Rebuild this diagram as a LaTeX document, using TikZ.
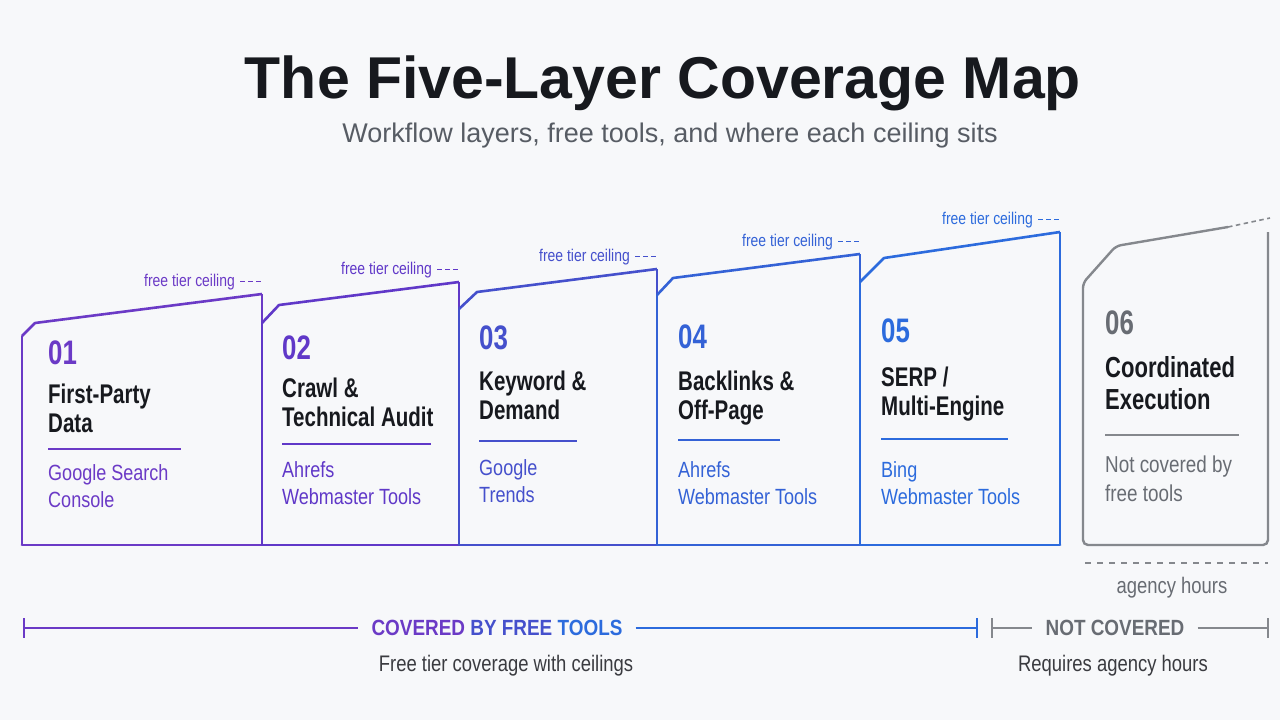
\documentclass[tikz,border=0pt]{standalone}
\usepackage{fontspec}
\setmainfont{Liberation Sans}
\newfontfamily\bodyfont[FakeStretch=0.82]{Liberation Sans}
\newfontfamily\headfont[FakeStretch=0.76]{Liberation Sans}
\newfontfamily\capfont[FakeStretch=0.86]{Liberation Sans}
\newcommand\tightsp{\spaceskip=0pt\relax\xspaceskip=0pt\relax}
\definecolor{lay1}{HTML}{6B3AC6}
\definecolor{lay2}{HTML}{6038C8}
\definecolor{lay3}{HTML}{4550CC}
\definecolor{lay4}{HTML}{3462D6}
\definecolor{lay5}{HTML}{2C6BDD}
\definecolor{grayc}{HTML}{85888D}
\definecolor{graytxt}{HTML}{686C73}
\definecolor{ink}{HTML}{17191E}
\definecolor{subgray}{HTML}{575C64}
\definecolor{bg}{HTML}{F7F8FA}

\begin{document}
\begin{tikzpicture}[x=1pt,y=-1pt,
  ceil/.style={line width=2.6pt,line join=round},
  wall/.style={line width=1.4pt},
  floor/.style={line width=2.8pt,line cap=round},
  ceildash/.style={line width=1.2pt,dash pattern=on 4.5pt off 3.5pt},
  rulec/.style={line width=1.5pt},
  barline/.style={line width=2.4pt},
  ceillbl/.style={font=\bodyfont\fontsize{17}{17}\selectfont,inner sep=0pt,anchor=base east},
  numlbl/.style={font=\headfont\bfseries\fontsize{34}{34}\selectfont,inner sep=0pt,anchor=base west},
  headlbl/.style={font=\headfont\bfseries\fontsize{27}{29}\selectfont,text=ink,inner sep=0pt,anchor=base west,text width=220pt,align=left},
  toollbl/.style={font=\bodyfont\fontsize{22}{27}\selectfont,inner sep=0pt,anchor=base west,text width=220pt,align=left},
  barlbl/.style={font=\capfont\bfseries\fontsize{22}{22}\selectfont,inner xsep=13pt,inner ysep=0pt},
  desclbl/.style={font=\bodyfont\fontsize{22.5}{22.5}\selectfont,text=ink!85,inner sep=0pt,anchor=base}]
\useasboundingbox (0,0) rectangle (1280,720);
\fill[bg] (0,0) rectangle (1280,720);

\node[font=\bfseries\fontsize{59}{59}\selectfont,text=ink,anchor=base] (title) at (663,98) {The Five-Layer Coverage Map};
\node[font=\fontsize{27}{27}\selectfont,text=subgray,anchor=base] (subtitle) at (670,142) {Workflow layers, free tools, and where each ceiling sits};

\foreach \l/\r/\yc/\xt/\yt/\yr/\col in {22/262/336/35/323/294/lay1,262/459/323/279/305/282/lay2,459/657/309/477/292/269/lay3,657/860/295/673/278/254/lay4,860/1060/282/884/258/232/lay5}
{
\draw[wall,\col] (\l,\yc) -- (\l,545);
\draw[wall,\col] (\r,\yr) -- (\r,545);
\draw[floor,\col] (\l,545) -- (\r,545);
\draw[ceil,\col] (\l,\yc) -- (\xt,\yt) -- (\r,\yr);
\node[ceillbl,text=\col] (cap\col) at (\r-27,\yr-8) {free tier ceiling};
\draw[ceildash,\col] (cap\col.east) ++(5,0) -- ++(20.5,0);
}

\foreach \n/\tx/\ynum/\yhead/\yrule/\rx/\ytool/\col/\head/\tool in {01/48/364/403/449/181/480/lay1/{First-Party\\Data}/{Google Search\\Console},02/282/359/397/444/431/477/lay2/{Crawl \&\\Technical Audit}/{Ahrefs\\Webmaster Tools},03/479/349/390/441/577/475/lay3/{Keyword \&\\Demand}/{Google\\Trends},04/678/348/390/440/780/477/lay4/{Backlinks \&\\Off-Page}/{Ahrefs\\Webmaster Tools},05/881/342/386/439/1008/477/lay5/{SERP /\\Multi-Engine}/{Bing\\Webmaster Tools}}
{
\node[numlbl,text=\col] (num\n) at (\tx,\ynum) {\n};
\node[headlbl] (head\n) at (\tx,\yhead) {\tightsp\head};
\draw[rulec,\col] (\tx,\yrule) -- (\rx,\yrule);
\node[toollbl,text=\col] (tool\n) at (\tx,\ytool) {\tightsp\tool};
}

\draw[grayc,line width=2.4pt,rounded corners=5pt] (1228,227) -- (1116,246) -- (1083,283) -- (1083,545) -- (1268,545) -- (1268,232);
\draw[grayc,ceildash,line width=1.6pt] (1228,227) -- (1270,218);
\node[numlbl,text=graytxt] (num06) at (1105,334) {06};
\node[headlbl,font=\headfont\bfseries\fontsize{29}{32}\selectfont] (head06) at (1105,377) {\tightsp Coordinated\\Execution};
\draw[rulec,grayc] (1105,435) -- (1239,435);
\node[toollbl,text=graytxt,font=\bodyfont\fontsize{23}{29}\selectfont] (tool06) at (1105,472) {\tightsp Not covered by\\free tools};

\coordinate (agL) at (1085,563);
\coordinate (agR) at (1268,563);
\draw[grayc,line width=1.4pt,dash pattern=on 6pt off 6pt] (agL) -- (agR);
\node[desclbl,text=graytxt] (agency) at (1172,593) {agency hours};

\coordinate (barL) at (24,628);
\coordinate (barM) at (977,628);
\coordinate (barN) at (992,628);
\coordinate (barR) at (1268,628);
\node[barlbl] (cov) at (497,628) {\textcolor{lay1}{COVERED} \textcolor{lay3}{BY FREE} \textcolor{lay5}{TOOLS}};
\node[barlbl,text=graytxt] (notcov) at (1115,628) {NOT COVERED};
\draw[barline,lay1] (barL) -- (cov);
\draw[barline,lay5] (cov) -- (barM);
\draw[barline,grayc] (barN) -- (notcov);
\draw[barline,grayc] (notcov) -- (barR);
\foreach \c/\col in {barL/lay1,barM/lay5,barN/grayc,barR/grayc}
\draw[wall,\col] (\c) ++(0,-10) -- ++(0,20);

\node[desclbl] (covnote) at (506,671) {Free tier coverage with ceilings};
\node[desclbl] (notnote) at (1113,671) {Requires agency hours};
\end{tikzpicture}
\end{document}
